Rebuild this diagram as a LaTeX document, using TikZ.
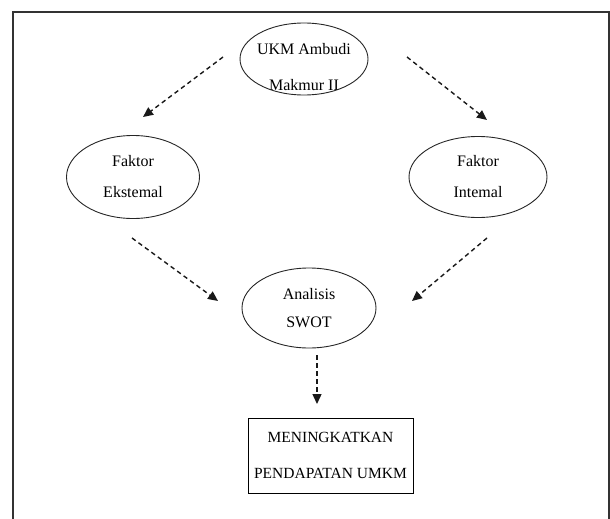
\documentclass[tikz,border=0pt]{standalone}
\usepackage{fontspec}
\setmainfont{Liberation Serif}
\usetikzlibrary{shapes.geometric,arrows.meta}
\tikzset{
  oval/.style={draw=black!85, line width=0.9pt, ellipse, inner sep=0pt, align=center,
    font=\fontsize{16}{31}\selectfont},
  ovaltext/.style={inner sep=0pt, align=center, font=\fontsize{16}{36}\selectfont},
  goalbox/.style={draw=black, line width=0.9pt, rectangle, inner sep=0pt, align=center,
    minimum width=165pt, minimum height=75pt, font=\fontsize{15.5}{36}\selectfont},
  flow/.style={draw=black!90, line width=1.4pt, dash pattern=on 4.5pt off 3.5pt,
    -{Triangle[length=10pt,width=9pt]}},
  frame/.style={draw=black!80, line width=1.3pt}
}
\begin{document}
\begin{tikzpicture}[x=1pt,y=-1pt]
\useasboundingbox (0,0) rectangle (610,519);
\draw[frame] (13,519) -- (13,12) -- (609,12) -- (609,519);

\begin{scope}
  \clip (304,59) ellipse [x radius=64, y radius=36];
  \node[ovaltext] (ukmtext) at (304,67) {UKM Ambudi\\Makmur II};
\end{scope}
\node[oval, minimum width=128pt, minimum height=72pt] (ukm) at (304,59) {};
\node[oval, minimum width=133pt, minimum height=83pt] (eks) at (133,177) {Faktor\\Ekstemal};
\node[oval, minimum width=138pt, minimum height=81pt] (int) at (478,177) {Faktor\\Intemal};
\node[oval, minimum width=134pt, minimum height=80pt] (swot) at (309,308) {Analisis\\[-3pt]SWOT};
\node[goalbox] (goal) at (330.5,455.5) {MENINGKATKAN\\PENDAPATAN UMKM};

\coordinate (a1s) at (223,57);  \coordinate (a1e) at (143,117);
\coordinate (a2s) at (407,57);  \coordinate (a2e) at (487,120);
\coordinate (a3s) at (132,238); \coordinate (a3e) at (218,301);
\coordinate (a4s) at (487,238); \coordinate (a4e) at (412,301);
\coordinate (a5s) at (317,355); \coordinate (a5e) at (317,404);

\draw[flow] (a1s) -- (a1e);
\draw[flow] (a2s) -- (a2e);
\draw[flow] (a3s) -- (a3e);
\draw[flow] (a4s) -- (a4e);
\draw[flow] (a5s) -- (a5e);
\end{tikzpicture}
\end{document}
